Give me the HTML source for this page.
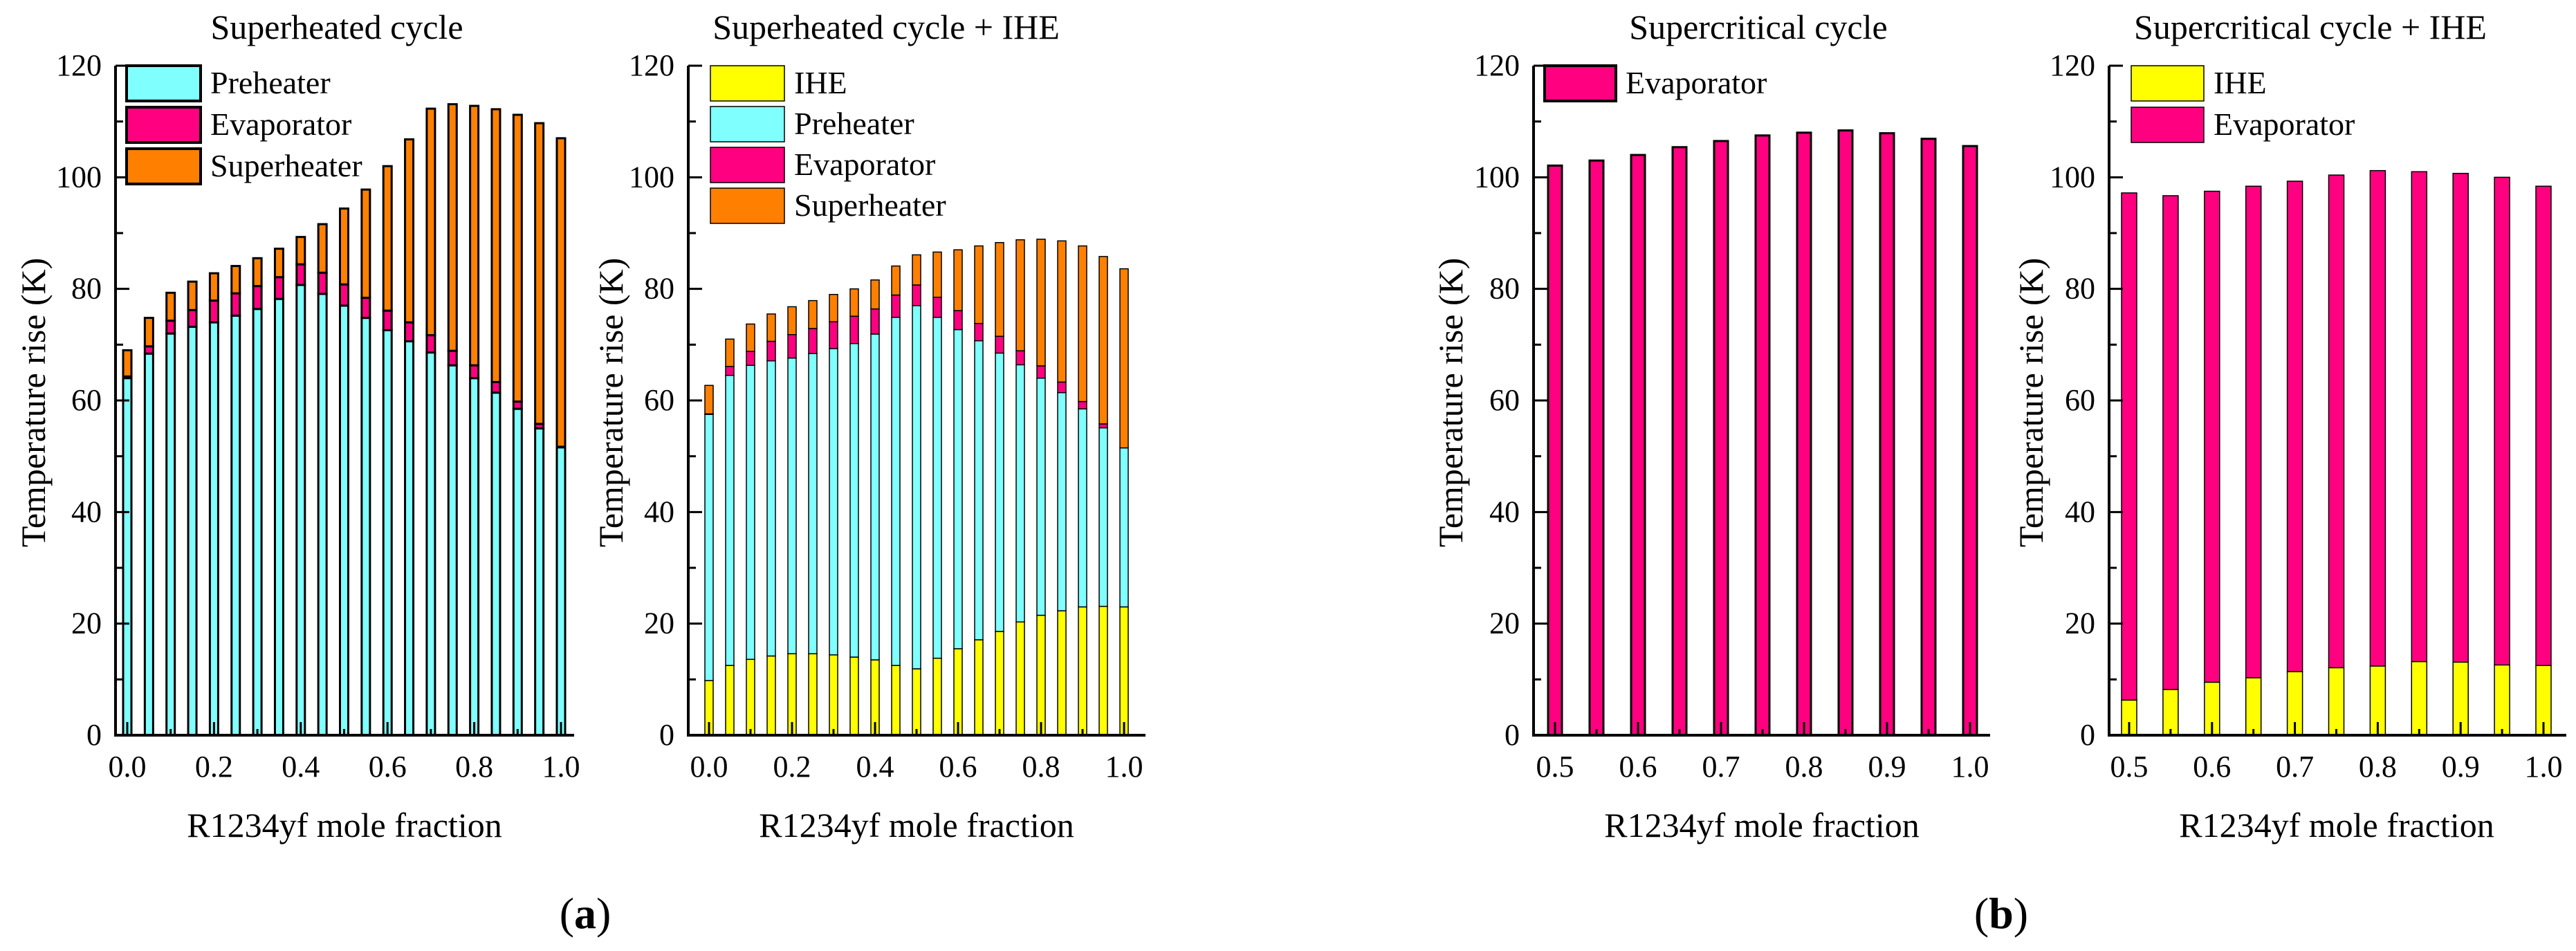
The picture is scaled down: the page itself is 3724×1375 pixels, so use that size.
<!DOCTYPE html>
<html><head><meta charset="utf-8"><style>
html,body{margin:0;padding:0;background:#fff;}
svg{display:block;}
svg text{font-family:"Liberation Serif","Times New Roman",serif;}
</style></head><body>
<svg id="fig" width="3724" height="1375" viewBox="0 0 3724 1375" xmlns="http://www.w3.org/2000/svg" font-family="Liberation Serif, serif"></svg>
<script>
// ---- data ----
const xA = [0,0.05,0.1,0.15,0.2,0.25,0.3,0.35,0.4,0.45,0.5,0.55,0.6,0.65,0.7,0.75,0.8,0.85,0.9,0.95,1.0];
const xB = [0.5,0.55,0.6,0.65,0.7,0.75,0.8,0.85,0.9,0.95,1.0];
const tickLabelsA = ["0.0","0.2","0.4","0.6","0.8","1.0"];
const tickLabelsB = ["0.5","0.6","0.7","0.8","0.9","1.0"];
const yTicks = [0,20,40,60,80,100,120];
// panel 1 superheated (cumulative tops)
const p1Pre  = [64.0,68.4,72.0,73.2,74.0,75.2,76.4,78.2,80.7,79.1,77.0,74.8,72.6,70.6,68.6,66.3,64.0,61.4,58.5,55.0,51.6];
const p1Evap = [64.3,69.7,74.3,76.2,77.9,79.2,80.5,82.1,84.4,82.9,80.8,78.4,76.1,74.0,71.7,68.9,66.3,63.3,59.8,55.8,51.7];
const p1Tot  = [69.0,74.8,79.3,81.3,82.8,84.1,85.5,87.2,89.3,91.6,94.4,97.8,102.0,106.8,112.3,113.1,112.8,112.2,111.2,109.7,107.0];
// panel 2 superheated + IHE
const p2IHE  = [9.8,12.5,13.6,14.2,14.6,14.6,14.4,14.0,13.5,12.5,11.9,13.8,15.5,17.1,18.6,20.3,21.5,22.3,23.0,23.1,23.0];
const p2Pre  = [57.5,64.5,66.3,67.1,67.6,68.4,69.3,70.2,71.9,74.9,77.0,74.9,72.7,70.7,68.5,66.4,64.0,61.4,58.5,55.1,51.5];
const p2Evap = [57.6,66.1,68.8,70.6,71.8,72.9,74.1,75.1,76.4,78.9,80.7,78.5,76.1,73.8,71.5,68.9,66.2,63.3,59.8,55.8,51.5];
const p2Tot  = [62.7,71.0,73.7,75.5,76.8,77.9,79.0,80.0,81.6,84.1,86.1,86.6,87.0,87.7,88.3,88.8,88.9,88.6,87.7,85.8,83.6];
// panel 3 supercritical
const p3Evap = [102.1,103.0,104.0,105.4,106.5,107.5,108.0,108.4,107.9,106.9,105.6];
// panel 4 supercritical + IHE
const p4IHE  = [6.3,8.2,9.5,10.3,11.4,12.1,12.4,13.2,13.1,12.6,12.5];
const p4Tot  = [97.2,96.7,97.5,98.4,99.3,100.4,101.2,101.0,100.7,100.0,98.4];

const C = {ihe:"#FFFF00", pre:"#80FFFF", evap:"#FF0080", sup:"#FF8000"};
const FONT = '"Liberation Serif", serif';
const svg = document.getElementById('fig');
const NS = "http://www.w3.org/2000/svg";
function mk(tag, attrs, parent){
  const e = document.createElementNS(NS, tag);
  for (const k in attrs) e.setAttribute(k, attrs[k]);
  if (tag === 'text') e.setAttribute('font-family', FONT);
  (parent||svg).appendChild(e);
  return e;
}
const Y0 = 1063, Y120 = 95;
function yS(v){ return Y0 - (Y0 - Y120) * v / 120; }

function panel(cfg){
  const g = mk('g', {});
  
  
  const xS = v => cfg.x0 + (v - cfg.xmin) / (cfg.xmax - cfg.xmin) * (cfg.x1 - cfg.x0);
  cfg.xs.forEach((xv, i) => {
    let prev = 0;
    cfg.series.forEach(s => {
      const top = s.vals[i];
      if (top - prev > 0.01) {
        const r = mk('rect', {x: xS(xv) - cfg.bw/2, y: yS(top), width: cfg.bw, height: yS(prev) - yS(top),
          fill: s.color, stroke: "#000", 'stroke-width': cfg.sw}, g);
        
        
      }
      prev = Math.max(prev, top);
    });
  });
  const ax = mk('path', {d: `M${cfg.axL},${Y120} V${Y0} H${cfg.axR}`, fill: "none", stroke: "#000", 'stroke-width': 4}, g);
  
  
  for (let v = 0; v <= 120; v += 10) {
    const len = v % 20 === 0 ? 20 : 11;
    mk('line', {x1: cfg.axL, x2: cfg.axL + len, y1: yS(v), y2: yS(v), stroke: "#000", 'stroke-width': 3}, g);
  }
  yTicks.forEach(v => {
    const t = mk('text', {x: cfg.axL - 20, y: yS(v) + 14, 'text-anchor': 'end', 'font-size': 44}, g);
    t.textContent = v;
    
    
  });
  cfg.xTicks.forEach(tk => {
    mk('line', {x1: xS(tk.v), x2: xS(tk.v), y1: Y0, y2: Y0 - (tk.major ? 19 : 9), stroke: "#000", 'stroke-width': 3}, g);
  });
  cfg.labels.forEach((lab, i) => {
    const t = mk('text', {x: xS(cfg.labelVals[i]), y: 1123, 'text-anchor': 'middle', 'font-size': 44}, g);
    t.textContent = lab;
    
    
  });
  const tt = mk('text', {x: cfg.titleX, y: 56, 'text-anchor': 'middle', 'font-size': 50}, g);
  tt.textContent = cfg.title;
  
  
  const xt = mk('text', {x: cfg.xtX, y: 1210, 'text-anchor': 'middle', 'font-size': 50}, g);
  xt.textContent = "R1234yf mole fraction";
  
  
  const yt = mk('text', {x: 0, y: 0, 'text-anchor': 'middle', 'font-size': 50, transform: `translate(${cfg.ytX + 16},582) rotate(-90)`}, g);
  yt.textContent = "Temperature rise (K)";
  
  
  cfg.legend.forEach((l, i) => {
    const y = 95 + i * cfg.legPitch;
    const r = mk('rect', {x: cfg.legX, y: y, width: cfg.legW, height: 51, fill: l.color, stroke: "#000", 'stroke-width': cfg.legSw}, g);
    
    
    const t = mk('text', {x: cfg.legX + cfg.legW + 14, y: y + 40, 'font-size': 46}, g);
    t.textContent = l.label;
    
    
  });
}

const ticksA = [0,0.1,0.2,0.3,0.4,0.5,0.6,0.7,0.8,0.9,1.0].map((v,i)=>({v, major: i%2===0}));
const ticksB = xB.map((v,i)=>({v, major: i%2===0}));
const labValsA = [0,0.2,0.4,0.6,0.8,1.0];
const labValsB = [0.5,0.6,0.7,0.8,0.9,1.0];

panel({name:'superheated-chart', xs:xA, xmin:0, xmax:1, x0:184, x1:811, axL:167, axR:830, bw:12, sw:3,
  series:[{key:'preheater',vals:p1Pre,color:C.pre},{key:'evaporator',vals:p1Evap,color:C.evap},{key:'superheater',vals:p1Tot,color:C.sup}],
  xTicks:ticksA, labels:tickLabelsA, labelVals:labValsA, title:"Superheated cycle", titleX:487, xtX:498, ytX:49,
  legend:[{label:"Preheater",color:C.pre},{label:"Evaporator",color:C.evap},{label:"Superheater",color:C.sup}],
  legX:183, legW:107, legPitch:60, legSw:4});

panel({name:'superheated-ihe-chart', xs:xA, xmin:0, xmax:1, x0:1025, x1:1625, axL:995, axR:1656, bw:12, sw:1.5,
  series:[{key:'ihe',vals:p2IHE,color:C.ihe},{key:'preheater',vals:p2Pre,color:C.pre},{key:'evaporator',vals:p2Evap,color:C.evap},{key:'superheater',vals:p2Tot,color:C.sup}],
  xTicks:ticksA, labels:tickLabelsA, labelVals:labValsA, title:"Superheated cycle + IHE", titleX:1281, xtX:1325, ytX:884,
  legend:[{label:"IHE",color:C.ihe},{label:"Preheater",color:C.pre},{label:"Evaporator",color:C.evap},{label:"Superheater",color:C.sup}],
  legX:1027, legW:107, legPitch:59, legSw:1.5});

panel({name:'supercritical-chart', xs:xB, xmin:0.5, xmax:1, x0:2248, x1:2848, axL:2217, axR:2877, bw:20, sw:3,
  series:[{key:'evaporator',vals:p3Evap,color:C.evap}],
  xTicks:ticksB, labels:tickLabelsB, labelVals:labValsB, title:"Supercritical cycle", titleX:2542, xtX:2547, ytX:2098,
  legend:[{label:"Evaporator",color:C.evap}],
  legX:2233, legW:103, legPitch:60, legSw:4});

panel({name:'supercritical-ihe-chart', xs:xB, xmin:0.5, xmax:1, x0:3078, x1:3677, axL:3049, axR:3710, bw:22, sw:1.5,
  series:[{key:'ihe',vals:p4IHE,color:C.ihe},{key:'evaporator',vals:p4Tot,color:C.evap}],
  xTicks:ticksB, labels:tickLabelsB, labelVals:labValsB, title:"Supercritical cycle + IHE", titleX:3340, xtX:3378, ytX:2937,
  legend:[{label:"IHE",color:C.ihe},{label:"Evaporator",color:C.evap}],
  legX:3081, legW:105, legPitch:60, legSw:1.5});

const a = mk('text', {x: 846, y: 1342, 'text-anchor': 'middle', 'font-size': 64});
a.innerHTML = '(<tspan font-weight="bold">a</tspan>)';


const b = mk('text', {x: 2893, y: 1342, 'text-anchor': 'middle', 'font-size': 64});
b.innerHTML = '(<tspan font-weight="bold">b</tspan>)';


</script>
</body></html>
